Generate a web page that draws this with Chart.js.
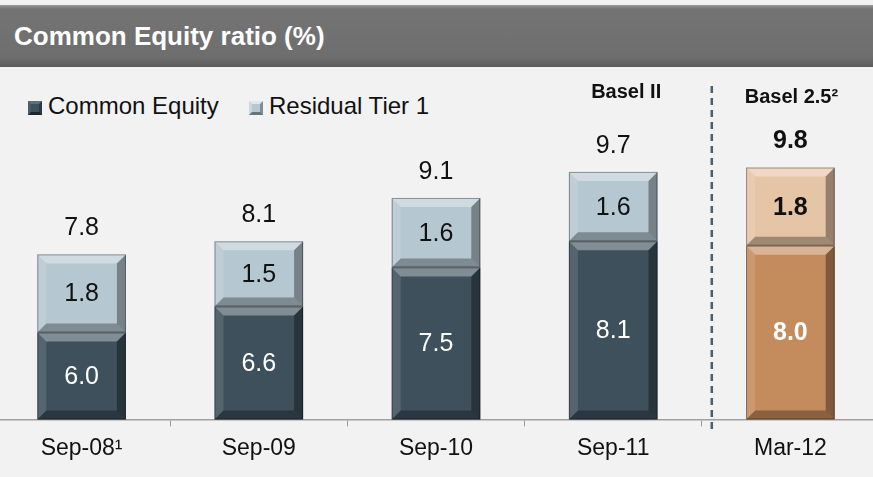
<!DOCTYPE html>
<html>
<head>
<meta charset="utf-8">
<script src="https://cdn.jsdelivr.net/npm/chart.js@4.4.0/dist/chart.umd.min.js"></script>
<style>
  html, body { margin: 0; padding: 0; }
  body { width: 873px; height: 477px; background: #f2f2f2; position: relative; overflow: hidden; font-family: Arial, "Liberation Sans", sans-serif; }
  #title { position: absolute; left: 0; top: 5px; width: 873px; height: 62px; box-sizing: border-box; padding-left: 14px;
    background: linear-gradient(#9a9a9a 0px, #747474 4px, #6e6e6e 52px, #5c5c5c 62px);
    color: #fff; font-weight: bold; font-size: 26px; line-height: 62px; }
  .leg { position: absolute; top: 92px; font-size: 24px; color: #111; line-height: 28px; }
  .sw { position: absolute; width: 8px; height: 8px; border: 3px solid; top: 9px; left: -20px; }
  #wrap { position: absolute; left: -7px; top: 0; width: 886px; height: 477px; }
</style>
</head>
<body>
<div id="title">Common Equity ratio (%)</div>
<div class="leg" style="left:48px"><span class="sw" style="background:#3e505c;border-color:#5d707c #2c3a43 #1c262d #4a5d69"></span>Common Equity</div>
<div class="leg" style="left:269px"><span class="sw" style="background:#b5c7d1;border-color:#dde8ee #7f8f98 #66747c #c9d7de"></span>Residual Tier 1</div>
<div id="wrap"><canvas id="chart" width="886" height="477"></canvas></div>
<script>
const categories = ['Sep-08\u00b9', 'Sep-09', 'Sep-10', 'Sep-11', 'Mar-12'];
const commonEquity = [6.0, 6.6, 7.5, 8.1, 8.0];
const residualTier1 = [1.8, 1.5, 1.6, 1.6, 1.8];
const totals = [7.8, 8.1, 9.1, 9.7, 9.8];
const regimeLabels = ['Basel II', 'Basel 2.5\u00b2'];

const ceColors = ['#3e505c', '#3e505c', '#3e505c', '#3e505c', '#c48b5c'];
const rtColors = ['#b5c7d1', '#b5c7d1', '#b5c7d1', '#b5c7d1', '#e6c4a6'];

function poly(ctx, pts, fill) {
  ctx.beginPath();
  ctx.moveTo(pts[0][0], pts[0][1]);
  for (let i = 1; i < pts.length; i++) ctx.lineTo(pts[i][0], pts[i][1]);
  ctx.closePath();
  ctx.fillStyle = fill;
  ctx.fill();
}

// bevelled look + value labels
const barDecor = {
  id: 'barDecor',
  afterDatasetsDraw(chart) {
    const ctx = chart.ctx, area = chart.chartArea;
    const last = categories.length - 1;
    chart.data.datasets.forEach((ds, di) => {
      chart.getDatasetMeta(di).data.forEach((bar, i) => {
        const p = bar.getProps(['x', 'y', 'base', 'width'], true);
        const l = p.x - p.width / 2, r = p.x + p.width / 2;
        const t = Math.min(p.y, p.base), b = Math.min(Math.max(p.y, p.base), area.bottom);
        const k = 9;
        ctx.save();
        poly(ctx, [[l, t], [r, t], [r - k, t + k], [l + k, t + k]], 'rgba(255,255,255,0.35)');
        poly(ctx, [[l, t], [l + k, t + k], [l + k, b - k], [l, b]], 'rgba(255,255,255,0.12)');
        poly(ctx, [[r, t], [r, b], [r - k, b - k], [r - k, t + k]], 'rgba(0,0,0,0.35)');
        poly(ctx, [[l, b], [l + k, b - k], [r - k, b - k], [r, b]], 'rgba(0,0,0,0.3)');
        ctx.strokeStyle = 'rgba(0,0,0,0.35)';
        ctx.lineWidth = 1;
        ctx.strokeRect(l + 0.5, t + 0.5, p.width - 1, b - t - 1);

        ctx.font = (i === last ? 'bold ' : '') + '25px Arial, "Liberation Sans", sans-serif';
        ctx.textAlign = 'center';
        ctx.textBaseline = 'middle';
        ctx.fillStyle = di === 0 ? '#ffffff' : '#111111';
        ctx.fillText(ds.data[i].toFixed(1), p.x, (t + b) / 2 + 1);
        if (di === chart.data.datasets.length - 1) {
          ctx.fillStyle = '#111111';
          ctx.fillText(totals[i].toFixed(1), p.x, t - 26);
        }
        ctx.restore();
      });
    });
  },
  afterDraw(chart) {
    const ctx = chart.ctx, x = chart.scales.x;
    const sx = x.getPixelForValue(3.5) + 10;
    ctx.save();
    ctx.strokeStyle = '#4d5e6a';
    ctx.lineWidth = 2.5;
    ctx.setLineDash([7, 5]);
    ctx.beginPath();
    ctx.moveTo(sx, 86);
    ctx.lineTo(sx, 433);
    ctx.stroke();
    ctx.setLineDash([]);
    ctx.font = 'bold 20px Arial, "Liberation Sans", sans-serif';
    ctx.textAlign = 'center';
    ctx.textBaseline = 'middle';
    ctx.fillStyle = '#111';
    ctx.fillText(regimeLabels[0], x.getPixelForValue(3) + 13, 92);
    ctx.fillText(regimeLabels[1], x.getPixelForValue(4) + 1, 97);
    ctx.restore();
  }
};

new Chart(document.getElementById('chart'), {
  type: 'bar',
  data: {
    labels: categories,
    datasets: [
      { label: 'Common Equity', data: commonEquity, backgroundColor: ceColors, borderWidth: 0 },
      { label: 'Residual Tier 1', data: residualTier1, backgroundColor: rtColors, borderWidth: 0 }
    ]
  },
  options: {
    responsive: false,
    animation: false,
    layout: { padding: { top: 72, bottom: 7, left: 0, right: 0 } },
    barPercentage: 0.5,
    categoryPercentage: 1,
    plugins: { legend: { display: false }, tooltip: { enabled: false } },
    scales: {
      x: {
        stacked: true,
        grid: { display: true, drawOnChartArea: false, drawTicks: true, tickLength: 7, color: '#9a9a9a', lineWidth: 1 },
        border: { display: true, color: '#a0a0a0', width: 1.5 },
        ticks: { color: '#111', padding: 8, font: { size: 23, family: 'Arial, "Liberation Sans", sans-serif' } }
      },
      y: { stacked: true, display: false, min: 4, max: 12 }
    }
  },
  plugins: [barDecor]
});
</script>
</body>
</html>
